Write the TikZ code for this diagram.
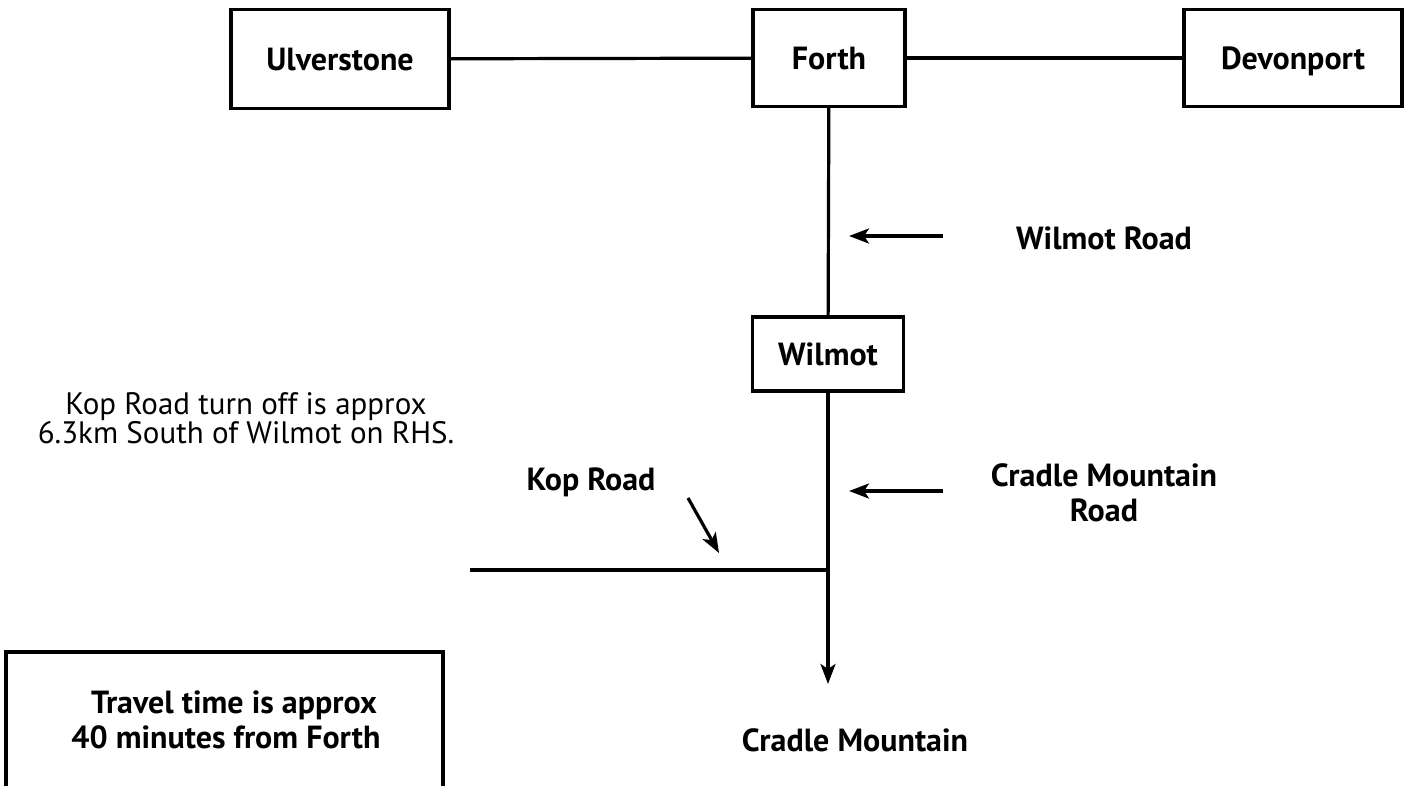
\documentclass[tikz,border=0pt]{standalone}
\usepackage{fontspec}
\setmainfont{PT Sans}
\usetikzlibrary{arrows.meta}
\begin{document}
\begin{tikzpicture}[x=1pt,y=-1pt,
  town/.style={draw,line width=3.2pt,inner sep=0pt,text height=26pt,text depth=4pt,font=\fontsize{32}{36}\selectfont\bfseries},
  lbl/.style={inner sep=0pt,font=\fontsize{32}{35}\selectfont\bfseries,align=center},
  road/.style={line width=3.2pt},
  pointer/.style={line width=3.2pt,-{Stealth[length=20pt,width=15pt,inset=5pt]}}]
\useasboundingbox (0,0) rectangle (1406,785);
\node[town,minimum width=218pt,minimum height=99pt] (ulv) at (340,59) {Ulverstone};
\node[town,minimum width=152pt,minimum height=97pt] (forth) at (829,58) {Forth};
\node[town,minimum width=218pt,minimum height=97pt] (dev) at (1293,58) {Devonport};
\node[town,minimum width=151pt,minimum height=74pt] (wil) at (828,354) {Wilmot};
\draw[road] (ulv) -- (forth);
\draw[road] (forth) -- (dev);
\draw[road] (forth) -- (wil);
\coordinate (junc) at (828,570);
\coordinate (kopend) at (470,570);
\coordinate (cmend) at (828,684);
\draw[road] (wil) -- (junc);
\draw[pointer] (junc) -- (cmend);
\draw[road] (kopend) -- (junc);
% labels
\node[lbl] (wr) at (1104,238) {Wilmot Road};
\coordinate (wra) at (943,236);
\coordinate (wrb) at (849,236);
\draw[pointer] (wra) -- (wrb);
\node[lbl] (cmr) at (1104,493) {Cradle Mountain\\Road};
\coordinate (cma) at (943,491);
\coordinate (cmb) at (849,491);
\draw[pointer] (cma) -- (cmb);
\node[lbl] (kop) at (591,482) {Kop Road};
\coordinate (kpa) at (688,498);
\coordinate (kpb) at (719,553);
\draw[pointer] (kpa) -- (kpb);
\node[lbl] (cm) at (855,740) {Cradle Mountain};
\node[inner sep=0pt,font=\fontsize{31}{26}\selectfont,align=center] (note) at (246,418) {Kop Road turn off is approx\\6.3km South of Wilmot on RHS.};
\draw[line width=3.2pt] (6,800) |- (443,652) -- (443,800);
\node[lbl] (tt) at (226,720) {\hspace*{16pt}Travel time is approx\\40 minutes from Forth};
\end{tikzpicture}
\end{document}
